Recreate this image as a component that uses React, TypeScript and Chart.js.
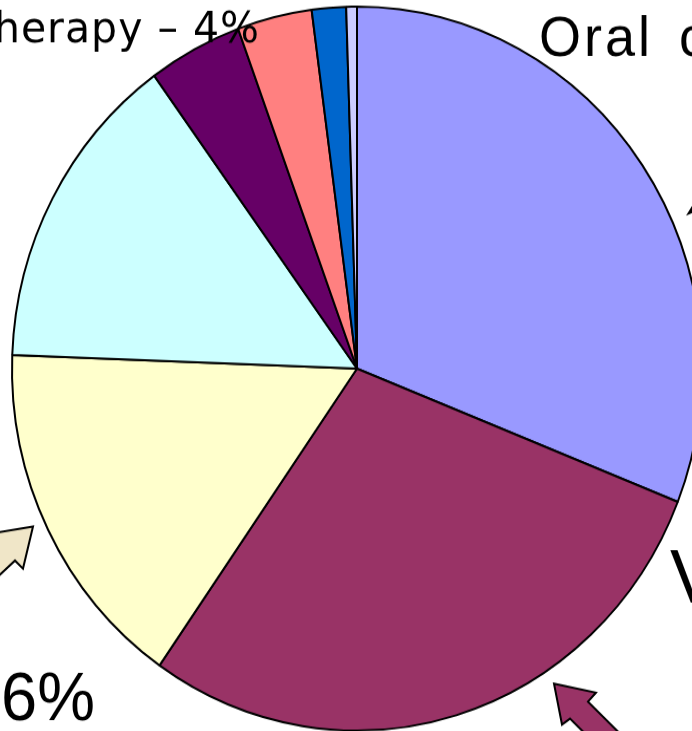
import React, { useEffect, useRef } from 'react';
import { Chart, registerables } from 'chart.js';

Chart.register(...registerables);

// ---- data ----
const categories = [
  'Oral chemotherapy',
  'V',
  '16%',
  'Segment 4',
  'Chemotherapy',
  'Segment 6',
  'Segment 7',
  'Segment 8',
];
const shares = [31.0, 28.7, 15.9, 14.4, 4.4, 3.5, 1.6, 0.5];
const sliceColors = ['#9999FF', '#993366', '#FFFFCC', '#CCFFFF', '#660066', '#FF8080', '#0066CC', '#CCCCFF'];
const labelTexts = ['Chemotherapy – 4%', 'Oral chemotherapy', 'V', '16%'];

// ---- layout (the original picture is stretched vertically) ----
const S = 362 / 345;
const T = 369 - 357 * S;
const py = (y: number) => (y - T) / S;

function poly(ctx: CanvasRenderingContext2D, pts: number[][], fill: string) {
  ctx.beginPath();
  pts.forEach(([x, y], i) => {
    if (i === 0) ctx.moveTo(x, py(y));
    else ctx.lineTo(x, py(y));
  });
  ctx.closePath();
  ctx.fillStyle = fill;
  ctx.fill();
  ctx.lineWidth = 2;
  ctx.strokeStyle = '#000';
  ctx.lineJoin = 'miter';
  ctx.stroke();
}

const overlay = {
  id: 'overlay',
  afterDraw(chart: any) {
    const ctx: any = chart.ctx;
    ctx.save();
    // maroon arrow (bottom right)
    poly(ctx, [[554, 684], [596, 693], [588, 702], [645, 759], [610, 759], [570, 719], [562, 725]], '#993366');
    // beige arrow (bottom left)
    poly(ctx, [[33, 527], [23, 569], [15, 561], [-29, 602], [-46, 583], [-2, 542], [-9, 534]], '#F0E6C8');
    // small black arrow head near the top right label
    ctx.beginPath();
    ctx.moveTo(686, py(216));
    ctx.lineTo(694, py(203));
    ctx.lineTo(696, py(212));
    ctx.closePath();
    ctx.fillStyle = '#000';
    ctx.fill();

    ctx.fillStyle = '#000';
    ctx.textBaseline = 'alphabetic';
    ctx.textAlign = 'right';
    ctx.font = '41px "DejaVu Sans"';
    ctx.letterSpacing = '1px';
    ctx.fillText(labelTexts[0], 260, py(43));

    ctx.textAlign = 'left';
    ctx.font = '54px "Liberation Sans"';
    ctx.letterSpacing = '3px';
    ctx.wordSpacing = '8px';
    ctx.fillText(labelTexts[1], 539, py(56));
    ctx.letterSpacing = '0px';
    ctx.wordSpacing = '0px';

    ctx.font = '73px "Liberation Sans"';
    ctx.fillText(labelTexts[2], 670, py(603));

    ctx.textAlign = 'right';
    ctx.font = '65px "Liberation Sans"';
    ctx.fillText(labelTexts[3], 95, py(721));
    ctx.restore();
  },
};

export default function App() {
  const ref = useRef<HTMLCanvasElement>(null);
  useEffect(() => {
    const chart = new Chart(ref.current as HTMLCanvasElement, {
      type: 'pie',
      data: {
        labels: categories,
        datasets: [
          {
            data: shares,
            backgroundColor: sliceColors,
            borderColor: '#000',
            borderWidth: 2,
            radius: 345,
          } as any,
        ],
      },
      options: {
        responsive: false,
        animation: false,
        layout: { padding: 0 },
        plugins: { legend: { display: false }, tooltip: { enabled: false } },
      },
      plugins: [overlay],
    });
    return () => chart.destroy();
  }, []);
  return (
    <div style={{ position: 'fixed', left: 0, top: 0, width: 692, height: 731, overflow: 'hidden', background: '#fff' }}>
      <canvas
        ref={ref}
        width={714}
        height={714}
        style={{ position: 'absolute', left: 0, top: T, transform: `scaleY(${S})`, transformOrigin: '0 0' }}
      />
    </div>
  );
}
